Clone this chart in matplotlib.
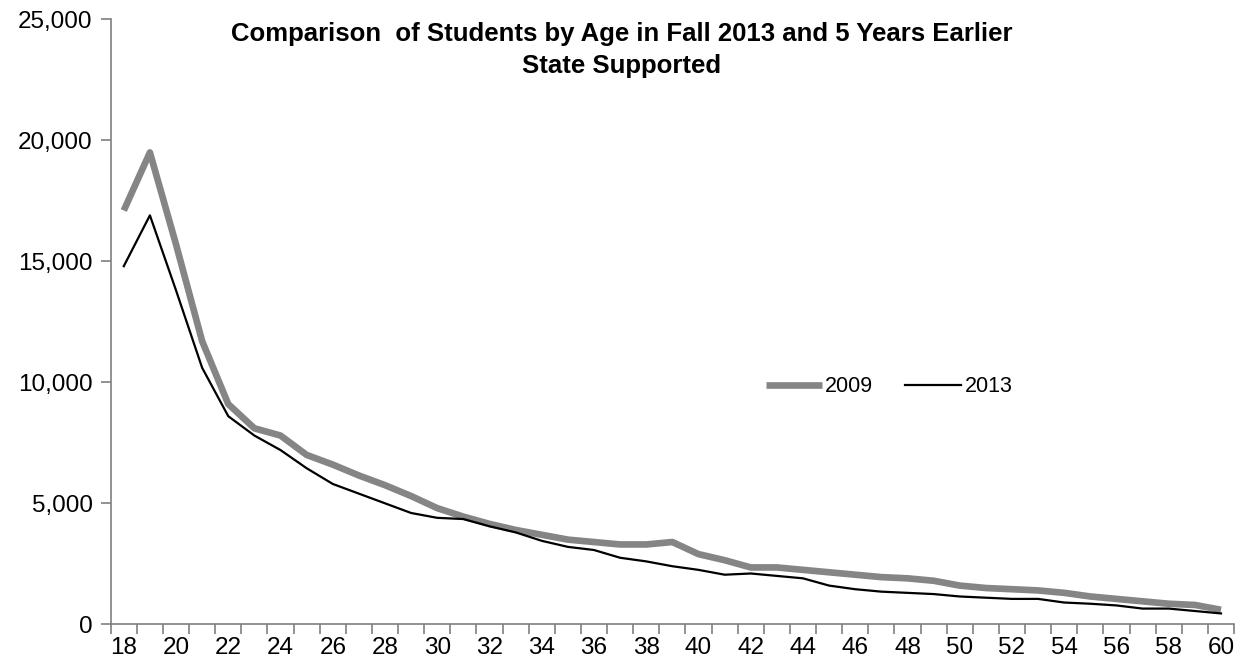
import matplotlib
matplotlib.use("Agg")
import matplotlib.pyplot as plt
from matplotlib.ticker import FuncFormatter, MultipleLocator, FixedLocator

plt.rcParams['font.family'] = ['Liberation Sans', 'DejaVu Sans']

ages = list(range(18, 61))
students_2009 = [17100, 19500, 15700, 11700, 9100, 8100, 7800, 7000, 6600, 6150,
                 5750, 5300, 4800, 4450, 4150, 3900, 3700, 3500, 3400, 3300,
                 3300, 3400, 2900, 2650, 2350, 2350, 2250, 2150, 2050, 1950,
                 1900, 1800, 1600, 1500, 1450, 1400, 1300, 1150, 1050, 950,
                 850, 800, 600]
students_2013 = [14800, 16900, 13800, 10600, 8600, 7800, 7200, 6450, 5800, 5400,
                 5000, 4600, 4400, 4350, 4050, 3800, 3450, 3200, 3070, 2750,
                 2600, 2400, 2250, 2050, 2100, 2000, 1900, 1600, 1450, 1350,
                 1300, 1250, 1150, 1100, 1050, 1050, 900, 850, 780, 650,
                 650, 550, 450]
series_labels = ['2009', '2013']
title_text = "Comparison  of Students by Age in Fall 2013 and 5 Years Earlier\nState Supported"

fig = plt.figure(figsize=(12.44, 6.67), dpi=100)
ax = fig.add_axes([0.089, 0.064, 0.903, 0.907])

ax.plot(ages, students_2009, color='#858585', lw=4.8, solid_capstyle='butt',
        label=series_labels[0])
ax.plot(ages, students_2013, color='black', lw=1.6, label=series_labels[1])

ax.set_xlim(17.5, 60.5)
ax.set_ylim(0, 25000)
ax.yaxis.set_major_locator(MultipleLocator(5000))
ax.yaxis.set_major_formatter(FuncFormatter(lambda v, p: f"{int(v):,}"))

ax.xaxis.set_major_locator(FixedLocator([a for a in ages if a % 2 == 0]))
ax.xaxis.set_minor_locator(FixedLocator([a - 0.5 for a in ages] + [60.5]))
ax.tick_params(axis='x', which='major', length=0, pad=9, labelsize=17.5)
ax.tick_params(axis='x', which='minor', length=7, width=1.2, color='#7f7f7f', direction='out')
ax.tick_params(axis='y', which='major', length=7, width=1.2, color='#7f7f7f', pad=6, labelsize=17.5)

for s in ['top', 'right']:
    ax.spines[s].set_visible(False)
for s in ['left', 'bottom']:
    ax.spines[s].set_color('#7f7f7f')
    ax.spines[s].set_linewidth(1.2)

fig.text(0.5, 1 - 22 / 667, title_text, ha='center', va='top', fontsize=18.5,
         fontweight='bold', linespacing=1.4)

leg = ax.legend(loc='center', bbox_to_anchor=(889 / 1244, 1 - 387 / 667),
                bbox_transform=fig.transFigure, ncol=2, frameon=False,
                fontsize=15.5, handlelength=2.6, handletextpad=0.15,
                columnspacing=1.5)

fig.savefig('out.png', dpi=100)
